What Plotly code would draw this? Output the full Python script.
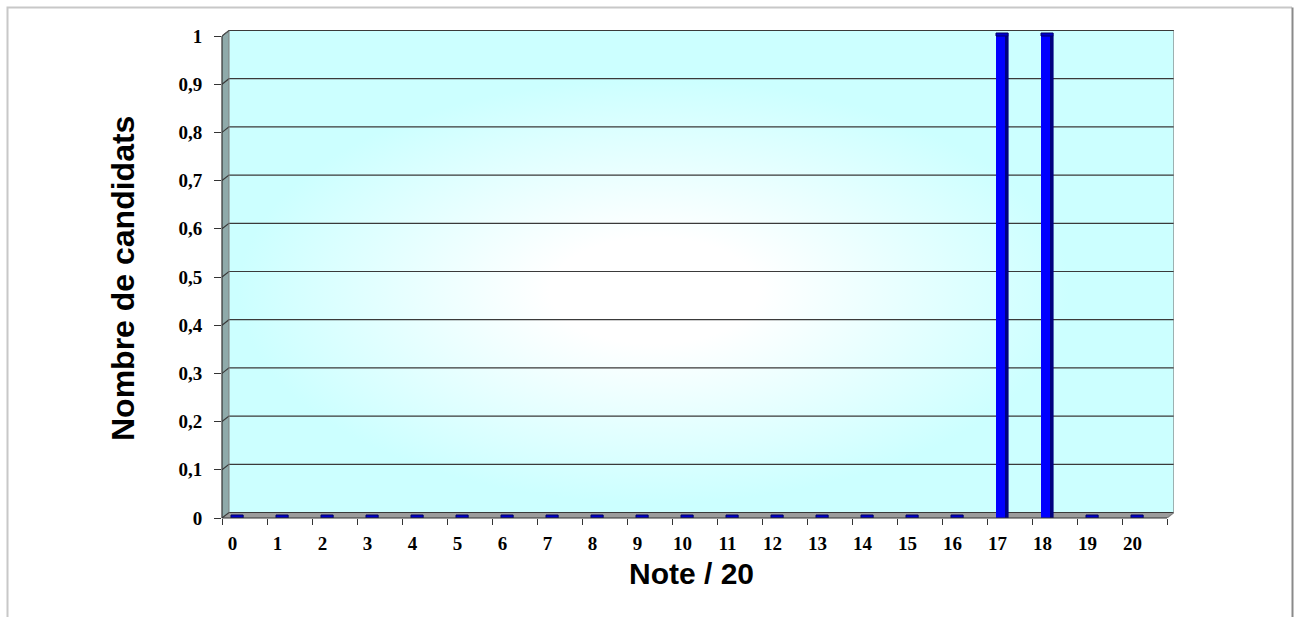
import base64
import plotly.graph_objects as go

# ---------------- data ----------------
notes = [0, 1, 2, 3, 4, 5, 6, 7, 8, 9, 10, 11, 12, 13, 14, 15, 16, 17, 18, 19, 20]
candidats = [0, 0, 0, 0, 0, 0, 0, 0, 0, 0, 0, 0, 0, 0, 0, 0, 0, 1, 1, 0, 0]
y_ticks = [0, 0.1, 0.2, 0.3, 0.4, 0.5, 0.6, 0.7, 0.8, 0.9, 1]
y_labels = ["0", "0,1", "0,2", "0,3", "0,4", "0,5", "0,6", "0,7", "0,8", "0,9", "1"]
x_title = "Note / 20"
y_title = "Nombre de candidats"

# ---------------- geometry (pixels) ----------------
W, H = 1298, 617
L, R, T, B = 222, 1174, 30, 518
XPU = 45.0           # pixels per category
YPU = 482.0          # pixels per unit
DX = 7 / XPU         # 3D depth offset (data units)
DY = 5.5 / YPU

x0 = notes[0] - 0.5
xe = notes[-1] + 0.5
ymax = y_ticks[-1]
xr = [x0, x0 + (R - L) / XPU]
yr = [0, (B - T) / YPU]


def pxp(p):
    return (p - L) / (R - L)


def pyp(p):
    return (B - p) / (B - T)


def dxp(v):
    return (v - xr[0]) / (xr[1] - xr[0])


def dyp(v):
    return (v - yr[0]) / (yr[1] - yr[0])


# radial gradient for the back wall (SVG data URI)
svg = (
    "<svg xmlns='http://www.w3.org/2000/svg' width='200' height='100' "
    "viewBox='0 0 200 100' preserveAspectRatio='none'>"
    "<defs><radialGradient id='g' cx='45%' cy='54%' r='50%' fx='45%' fy='54%'>"
    "<stop offset='0' stop-color='#FFFFFF'/>"
    "<stop offset='0.22' stop-color='#FFFFFF'/>"
    "<stop offset='0.88' stop-color='#CCFFFF'/>"
    "<stop offset='1' stop-color='#CCFFFF'/>"
    "</radialGradient></defs>"
    "<rect width='200' height='100' fill='#CCFFFF'/>"
    "<rect width='200' height='100' fill='url(#g)'/></svg>"
)
svg_uri = "data:image/svg+xml;base64," + base64.b64encode(svg.encode()).decode()

fig = go.Figure()

# bars: front face, dark side, top cap
fig.add_trace(go.Bar(x=notes, y=candidats, width=0.2, offset=-0.3,
                     marker=dict(color="#0000FF", line=dict(width=0)),
                     hoverinfo="x+y", showlegend=False))
fig.add_trace(go.Bar(x=notes, y=candidats, width=0.08, offset=-0.1,
                     marker=dict(color="#000080", line=dict(width=0)),
                     hoverinfo="skip", showlegend=False))
cap = 3 / YPU
fig.add_trace(go.Bar(x=notes, y=[cap] * len(notes), base=candidats,
                     width=0.27, offset=-0.3,
                     marker=dict(color="#0000CC", line=dict(color="#000066", width=1)),
                     hoverinfo="skip", showlegend=False))

shapes = []
# left wall
shapes.append(dict(type="path", xref="x", yref="y", layer="between",
                   path=f"M {x0} 0 L {x0} {ymax} L {x0 + DX} {ymax + DY} L {x0 + DX} {DY} Z",
                   fillcolor="#8FAAAA", line=dict(width=0)))
# floor
shapes.append(dict(type="path", xref="x", yref="y", layer="between",
                   path=f"M {x0} 0 L {xe} 0 L {xe + DX} {DY} L {x0 + DX} {DY} Z",
                   fillcolor="#9C9C9C", line=dict(width=0)))
# grid lines
for v in y_ticks:
    shapes.append(dict(type="path", xref="x", yref="y", layer="between",
                       path=f"M {x0} {v} L {x0 + DX} {v + DY} L {xe + DX} {v + DY}",
                       line=dict(color="#3A3A3A", width=1.2)))
# grey edges of the box
shapes.append(dict(type="path", xref="x", yref="y", layer="between",
                   path=f"M {xe} 0 L {xe + DX} {DY} L {xe + DX} {ymax + DY}",
                   line=dict(color="#7F7F7F", width=1.2)))
shapes.append(dict(type="line", xref="x", yref="y", layer="between",
                   x0=x0 + DX, y0=DY, x1=x0 + DX, y1=ymax + DY,
                   line=dict(color="#7F7F7F", width=1)))
# axis lines (paper refs so they are not clipped)
shapes += [
    dict(type="line", xref="paper", yref="paper",
         x0=dxp(x0), y0=dyp(0), x1=dxp(x0), y1=dyp(ymax),
         line=dict(color="#333333", width=1.2), layer="above"),
    dict(type="line", xref="paper", yref="paper",
         x0=dxp(x0), y0=dyp(0), x1=dxp(xe), y1=dyp(0),
         line=dict(color="#333333", width=1.2), layer="above"),
    dict(type="line", xref="paper", yref="paper",
         x0=dxp(x0), y0=dyp(ymax), x1=dxp(x0 + DX), y1=dyp(ymax + DY),
         line=dict(color="#555555", width=1), layer="above"),
    # outer chart border
    dict(type="path", xref="paper", yref="paper",
         path=f"M {pxp(7.5)} {pyp(640)} L {pxp(7.5)} {pyp(7.5)} L {pxp(1292)} {pyp(7.5)}",
         line=dict(color="#C8C8C8", width=2), layer="above"),
    dict(type="line", xref="paper", yref="paper",
         x0=pxp(1292.5), y0=pyp(7.5), x1=pxp(1292.5), y1=pyp(640),
         line=dict(color="#8A8A8A", width=2), layer="above"),
]

images = [dict(source=svg_uri, xref="x", yref="y",
               x=x0 + DX, y=ymax + DY, sizex=xe - x0, sizey=ymax,
               xanchor="left", yanchor="top", sizing="stretch", layer="below")]

annotations = [
    dict(text=x_title, xref="paper", yref="paper", x=pxp(691.5), y=pyp(573.5),
         xanchor="center", yanchor="middle", showarrow=False,
         font=dict(family="Liberation Sans", size=30, color="black", weight="bold")),
    dict(text=y_title, xref="paper", yref="paper", x=pxp(123), y=pyp(279),
         xanchor="center", yanchor="middle", showarrow=False, textangle=-90,
         font=dict(family="Liberation Sans", size=32, color="black", weight="bold")),
]

tickfont = dict(family="Liberation Serif", size=19, color="black", weight="bold")

fig.update_layout(
    width=W, height=H, autosize=False,
    margin=dict(l=L, r=W - R, t=T, b=H - B, pad=0),
    paper_bgcolor="white", plot_bgcolor="white",
    barmode="overlay", showlegend=False,
    shapes=shapes, annotations=annotations, images=images,
    xaxis=dict(range=xr, tickmode="array", tickvals=notes,
               ticktext=[str(n) for n in notes],
               ticks="", showgrid=False, zeroline=False, showline=False,
               tickfont=tickfont, ticklabelshift=-12, ticklabelstandoff=12,
               minor=dict(tickmode="array",
                          tickvals=[n - 0.5 for n in notes] + [notes[-1] + 0.5],
                          ticks="outside", ticklen=6, tickcolor="#333333", tickwidth=1,
                          showgrid=False),
               fixedrange=True),
    yaxis=dict(range=yr, tickmode="array", tickvals=y_ticks, ticktext=y_labels,
               ticks="outside", ticklen=7, tickcolor="#333333", tickwidth=1,
               showgrid=False, zeroline=False, showline=False,
               tickfont=tickfont, ticklabelstandoff=8, fixedrange=True),
)

fig.write_html("out.html")
